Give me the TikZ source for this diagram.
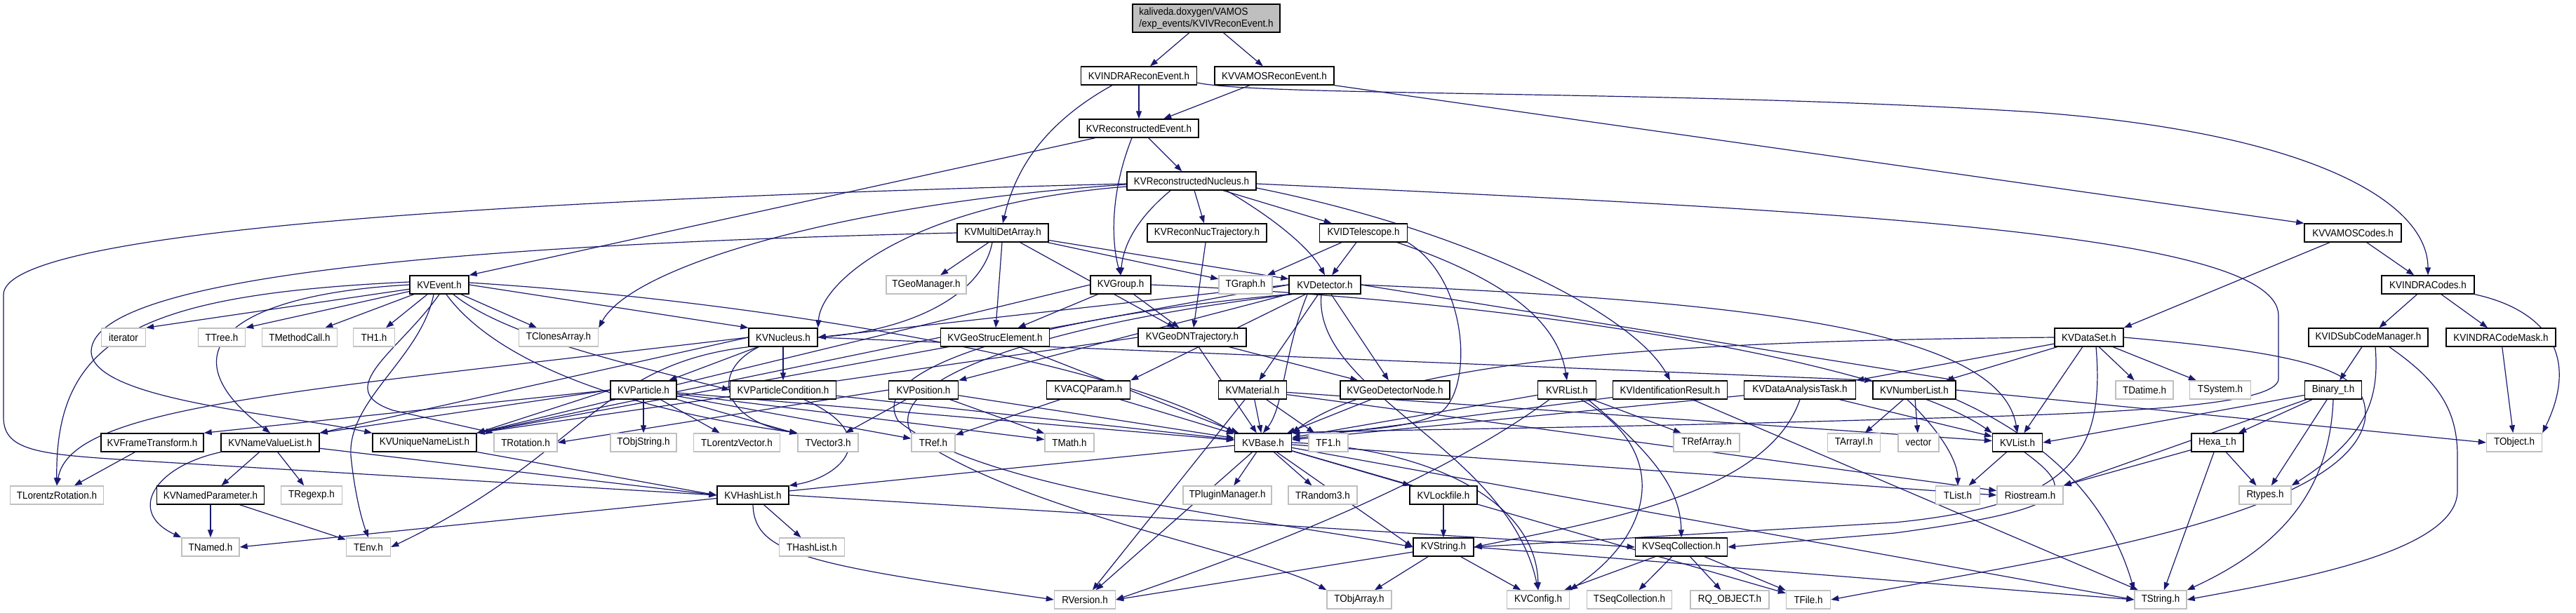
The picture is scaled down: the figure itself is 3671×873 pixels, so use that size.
\documentclass[tikz,border=0pt]{standalone}
\usepackage{fontspec}
\setmainfont{Liberation Sans}[FakeStretch=0.92]
\usetikzlibrary{arrows.meta}
\pgfdeclarelayer{bgfill}
\pgfdeclarelayer{edges}
\pgfsetlayers{bgfill,edges,main}
\definecolor{edgec}{HTML}{191970}
\definecolor{grayb}{HTML}{BFBFBF}
\tikzset{
  kv/.style={draw=black, fill=white, line width=1.4pt, inner sep=0pt, minimum height=26pt, font=\fontsize{14.6}{16.5}\selectfont},
  ext/.style={draw=grayb, fill=white, line width=1.4pt, inner sep=0pt, minimum height=26pt, font=\fontsize{14.6}{16.5}\selectfont},
  edge/.style={draw=edgec, line width=1.2pt, -{Triangle[length=11pt,width=8pt]}}
}
\begin{document}
\begin{tikzpicture}[x=1pt,y=-1pt]
\begin{pgfonlayer}{bgfill}
\fill[white] (0,0) rectangle (3671,873);
\end{pgfonlayer}
\useasboundingbox (0,0) rectangle (3671,873);
% ---------- nodes ----------
\node[kv,fill=grayb,minimum width=210pt,minimum height=40pt,align=left] (top) at (1719,26) {kaliveda.doxygen/VAMOS\\/exp\_events/KVIVReconEvent.h};
\node[kv,minimum width=165pt] (INDRARE) at (1623,108) {KVINDRAReconEvent.h};
\node[kv,minimum width=170pt] (VAMOSRE) at (1816,108) {KVVAMOSReconEvent.h};
\node[kv,minimum width=170pt] (RE) at (1623,183) {KVReconstructedEvent.h};
\node[kv,minimum width=184pt] (RN) at (1698,258) {KVReconstructedNucleus.h};
\node[kv,minimum width=130pt] (MDA) at (1429,332) {KVMultiDetArray.h};
\node[kv,minimum width=170pt] (RNT) at (1720,332) {KVReconNucTrajectory.h};
\node[kv,minimum width=125pt] (IDT) at (1943,332) {KVIDTelescope.h};
\node[kv,minimum width=138pt] (VAMOSC) at (3353,332) {KVVAMOSCodes.h};
\node[kv,minimum width=84pt] (EVT) at (626,406) {KVEvent.h};
\node[ext,minimum width=114pt] (TGeoM) at (1320,406) {TGeoManager.h};
\node[kv,minimum width=86pt] (GRP) at (1597,406) {KVGroup.h};
\node[ext,minimum width=76pt] (TGraph) at (1775,406) {TGraph.h};
\node[kv,minimum width=102pt] (DET) at (1888,406) {KVDetector.h};
\node[kv,minimum width=132pt] (INDRAC) at (3460,406) {KVINDRACodes.h};
\node[ext,minimum width=63pt] (iter) at (176,481) {iterator};
\node[ext,minimum width=67pt] (TTree) at (316,481) {TTree.h};
\node[ext,minimum width=107pt] (TMeth) at (427,481) {TMethodCall.h};
\node[ext,minimum width=59pt] (TH1) at (533,481) {TH1.h};
\node[ext,minimum width=113pt] (TClones) at (796,481) {TClonesArray.h};
\node[kv,minimum width=98pt] (NUC) at (1116,481) {KVNucleus.h};
\node[kv,minimum width=155pt] (GSE) at (1418,481) {KVGeoStrucElement.h};
\node[kv,minimum width=154pt] (GDNT) at (1699,481) {KVGeoDNTrajectory.h};
\node[kv,minimum width=98pt] (DS) at (2977,481) {KVDataSet.h};
\node[kv,minimum width=170pt] (IDSCM) at (3375,481) {KVIDSubCodeManager.h};
\node[kv,minimum width=156pt] (ICM) at (3564,481) {KVINDRACodeMask.h};
\node[kv,minimum width=94pt] (PART) at (917,556) {KVParticle.h};
\node[kv,minimum width=151pt] (PCOND) at (1116,556) {KVParticleCondition.h};
\node[kv,minimum width=99pt] (POS) at (1316,556) {KVPosition.h};
\node[kv,minimum width=119pt] (ACQ) at (1551,556) {KVACQParam.h};
\node[kv,minimum width=97pt] (MAT) at (1785,556) {KVMaterial.h};
\node[kv,minimum width=156pt] (GDN) at (1988,556) {KVGeoDetectorNode.h};
\node[kv,minimum width=83pt] (RLIST) at (2233,556) {KVRList.h};
\node[kv,minimum width=163pt] (IDRES) at (2380,556) {KVIdentificationResult.h};
\node[kv,minimum width=159pt] (DAT) at (2565,556) {KVDataAnalysisTask.h};
\node[kv,minimum width=118pt] (NUML) at (2728,556) {KVNumberList.h};
\node[ext,minimum width=82pt] (TDatime) at (3056,556) {TDatime.h};
\node[ext,minimum width=87pt] (TSystem) at (3164,556) {TSystem.h};
\node[kv,minimum width=81pt] (BIN) at (3325,556) {Binary\_t.h};
\node[kv,minimum width=146pt] (FT) at (217,631) {KVFrameTransform.h};
\node[kv,minimum width=140pt] (NVL) at (385,631) {KVNameValueList.h};
\node[kv,minimum width=148pt] (UNL) at (605,631) {KVUniqueNameList.h};
\node[ext,minimum width=90pt] (TRot) at (749,631) {TRotation.h};
\node[ext,minimum width=94pt] (TObjStr) at (917,631) {TObjString.h};
\node[ext,minimum width=123pt] (TLV) at (1050,631) {TLorentzVector.h};
\node[ext,minimum width=86pt] (TV3) at (1180,631) {TVector3.h};
\node[ext,minimum width=62pt] (TRef) at (1330,631) {TRef.h};
\node[ext,minimum width=70pt] (TMath) at (1524,631) {TMath.h};
\node[kv,minimum width=81pt] (BASE) at (1800,631) {KVBase.h};
\node[ext,minimum width=56pt] (TF1) at (1893,631) {TF1.h};
\node[ext,minimum width=94pt] (TRefArr) at (2432,631) {TRefArray.h};
\node[ext,minimum width=75pt] (TArrayI) at (2642,631) {TArrayI.h};
\node[ext,minimum width=58pt] (vec) at (2734,631) {vector};
\node[kv,minimum width=71pt] (LIST) at (2875,631) {KVList.h};
\node[kv,minimum width=74pt] (HEXA) at (3160,631) {Hexa\_t.h};
\node[ext,minimum width=79pt] (TObject) at (3583,631) {TObject.h};
\node[ext,minimum width=133pt] (TLR) at (81,706) {TLorentzRotation.h};
\node[kv,minimum width=153pt] (NPAR) at (300,706) {KVNamedParameter.h};
\node[ext,minimum width=87pt] (TRegexp) at (444,706) {TRegexp.h};
\node[kv,minimum width=102pt] (HL) at (1073,706) {KVHashList.h};
\node[ext,minimum width=126pt] (TPlug) at (1749,706) {TPluginManager.h};
\node[ext,minimum width=98pt] (TRand) at (1885,706) {TRandom3.h};
\node[kv,minimum width=96pt] (LOCK) at (2057,706) {KVLockfile.h};
\node[ext,minimum width=63pt] (TList) at (2790,706) {TList.h};
\node[ext,minimum width=94pt] (Rio) at (2893,706) {Riostream.h};
\node[ext,minimum width=74pt] (Rtypes) at (3228,706) {Rtypes.h};
\node[ext,minimum width=82pt] (TNamed) at (300,780) {TNamed.h};
\node[ext,minimum width=63pt] (TEnv) at (525,780) {TEnv.h};
\node[ext,minimum width=93pt] (THL) at (1157,780) {THashList.h};
\node[kv,minimum width=86pt] (STR) at (2057,780) {KVString.h};
\node[kv,minimum width=131pt] (SEQ) at (2396,780) {KVSeqCollection.h};
\node[ext,minimum width=87pt] (RVer) at (1546,855) {RVersion.h};
\node[ext,minimum width=92pt] (TObjArr) at (1937,855) {TObjArray.h};
\node[ext,minimum width=89pt] (CONF) at (2192,855) {KVConfig.h};
\node[ext,minimum width=121pt] (TSeqC) at (2322,855) {TSeqCollection.h};
\node[ext,minimum width=112pt] (RQ) at (2465,855) {RQ\_OBJECT.h};
\node[ext,minimum width=63pt] (TFile) at (2577,855) {TFile.h};
\node[ext,minimum width=74pt] (TString) at (3079,855) {TString.h};
% ---------- edges ----------
\begin{pgfonlayer}{edges}
\draw[edge] (top) -- (INDRARE);
\draw[edge] (top) -- (VAMOSRE);
\draw[edge] (INDRARE) -- (RE);
\draw[edge] (INDRARE.south west) ++(45,0) .. controls (1480,180) and (1445,250) .. (MDA.north);
\draw[edge] (INDRARE.east) ++(0,10) .. controls (1800,138) and (2400,128) .. (2900,160) .. controls (3300,190) and (3460,290) .. (INDRAC.north);
\draw[edge] (VAMOSRE) -- (RE);
\draw[edge] (VAMOSRE.south east) -- (VAMOSC.north west);
\draw[edge] (RE) -- (EVT.north east);
\draw[edge] (RE.south) ++(-10,0) .. controls (1580,280) and (1585,350) .. (GRP.north);
\draw[edge] (RE) -- (RN);
\draw[edge] (RN.west) ++(0,8) .. controls (1300,290) and (1170,400) .. (NUC.north east);
\draw[edge] (RN.west) ++(0,5) .. controls (1200,290) and (900,380) .. (TClones.north east);
\draw[edge] (RN) -- (RNT);
\draw[edge] (RN) -- (IDT);
\draw[edge] (RN.south) ++(50,0) .. controls (1830,320) and (1870,360) .. (DET.north);
\draw[edge] (RN.south) ++(-30,0) .. controls (1610,320) and (1600,360) .. (GRP.north);
\draw[edge] (RN.east) ++(0,10) .. controls (2100,330) and (2330,450) .. (IDRES.north);
\draw[edge] (RN.west) ++(0,4) .. controls (700,285) and (5,330) .. (5,420) -- (5,595) .. controls (5,645) and (60,648) .. (200,657) -- (HL.west);
\draw[edge] (RN.east) ++(0,4) .. controls (2600,300) and (3247,330) .. (3247,450) -- (3247,540) .. controls (3247,580) and (3000,590) .. (2721,597) .. controls (2300,610) and (2000,612) .. (BASE.north east);
\draw[edge] (MDA) -- (TGeoM);
\draw[edge] (MDA.south) ++(-15,0) .. controls (1400,420) and (1300,470) .. (NUC.east);
\draw[edge] (MDA) -- (GSE);
\draw[edge] (MDA) -- (GDNT);
\draw[edge] (MDA) -- (TGraph);
\draw[edge] (MDA) -- (DET);
\draw[edge] (MDA.west) .. controls (600,350) and (135,400) .. (130,500) .. controls (128,570) and (400,590) .. (UNL.north west);
\draw[edge] (RNT) -- (GDNT);
\draw[edge] (IDT) -- (TGraph);
\draw[edge] (IDT) -- (DET);
\draw[edge] (IDT.south east) ++(-15,0) .. controls (2150,400) and (2220,460) .. (RLIST.north);
\draw[edge] (IDT.south east) .. controls (2095,400) and (2100,560) .. (2050,590) .. controls (2000,615) and (1900,615) .. (BASE.north east);
\draw[edge] (VAMOSC) -- (INDRAC);
\draw[edge] (VAMOSC) -- (DS.north east);
\draw[edge] (INDRAC) -- (IDSCM);
\draw[edge] (INDRAC) -- (ICM);
\draw[edge] (INDRAC.south east) .. controls (3620,440) and (3680,500) .. (TObject.north east);
\draw[edge] (EVT) -- (iter.north east);
\draw[edge] (EVT) -- (TTree.north east);
\draw[edge] (EVT) -- (TMeth);
\draw[edge] (EVT) -- (TH1);
\draw[edge] (EVT) -- (TClones);
\draw[edge] (EVT.east) -- (NUC.north west);
\draw[edge] (EVT.south) ++(20,0) .. controls (720,480) and (900,520) .. (PCOND.west);
\draw[edge] (EVT.west) .. controls (330,420) and (230,500) .. (NVL.north);
\draw[edge] (EVT.south) .. controls (570,500) and (470,555) .. (560,585) -- (TRot.north west);
\draw[edge] (EVT.west) ++(0,-4) .. controls (200,420) and (78,480) .. (TLR.north);
\draw[edge] (EVT.south) ++(10,0) .. controls (680,480) and (800,570) .. (TV3.north west);
\draw[edge] (EVT.east) ++(0,-3) .. controls (1100,430) and (1600,520) .. (BASE.north west);
\draw[edge] (EVT.south) ++(-8,0) .. controls (600,510) and (495,570) .. (500,650) .. controls (505,700) and (515,740) .. (TEnv.north);
\draw[edge] (GRP) -- (GSE);
\draw[edge] (GRP) -- (GDNT);
\draw[edge] (GRP.west) -- (UNL.north east);
\draw[edge] (GRP.east) .. controls (2200,430) and (2700,520) .. (LIST.north west);
\draw[edge] (DET) -- (MAT);
\draw[edge] (DET) -- (GDN);
\draw[edge] (DET) -- (ACQ.north east);
\draw[edge] (DET) -- (POS.north east);
\draw[edge] (DET.west) -- (NUC.east);
\draw[edge] (DET.south) ++(-25,0) .. controls (1830,500) and (1830,580) .. (BASE.north);
\draw[edge] (DET.east) .. controls (2500,430) and (2850,470) .. (LIST.north);
\draw[edge] (DET.east) -- (NUML.north east);
\draw[edge] (DET.west) -- (UNL.north east);
\draw[edge] (DET.south) ++(-5,0) .. controls (1870,560) and (2150,640) .. (CONF.north);
\draw[edge] (DET.south west) .. controls (1500,450) and (1230,520) .. (1280,600) .. controls (1400,700) and (1800,740) .. (STR.west);
\draw[edge] (DET.south west) ++(5,0) .. controls (1500,460) and (1250,540) .. (1300,620) .. controls (1450,730) and (1800,790) .. (TObjArr.north west);
\draw[edge] (NUC) -- (PART);
\draw[edge] (NUC) -- (PCOND);
\draw[edge] (NUC.south west) ++(15,0) .. controls (1010,530) and (1030,600) .. (TV3.north west);
\draw[edge] (NUC.west) .. controls (400,560) and (100,580) .. (TLR.north);
\draw[edge] (NUC.west) -- (NVL.north east);
\draw[edge] (NUC.south west) .. controls (850,520) and (830,650) .. (TEnv.east);
\draw[edge] (NUC.east) -- (NUML.north west);
\draw[edge] (GSE) -- (BASE);
\draw[edge] (GSE.west) -- (UNL.north east);
\draw[edge] (GDNT) -- (GDN);
\draw[edge] (GDNT) -- (BASE);
\draw[edge] (GDNT.west) -- (UNL.north east);
\draw[edge] (DS) -- (DAT.north east);
\draw[edge] (DS) -- (NUML);
\draw[edge] (DS) -- (LIST);
\draw[edge] (DS) -- (TDatime);
\draw[edge] (DS) -- (TSystem);
\draw[edge] (DS.east) .. controls (3300,505) and (3380,530) .. (3370,600) .. controls (3340,740) and (2900,800) .. (TFile.east);
\draw[edge] (DS.west) .. controls (2500,485) and (2000,500) .. (BASE.north east);
\draw[edge] (DS.south) ++(10,0) .. controls (3000,650) and (2950,720) .. (2700,745) -- (STR.east);
\draw[edge] (IDSCM) -- (BIN);
\draw[edge] (IDSCM.south) ++(10,0) .. controls (3390,560) and (3380,620) .. (Rtypes.north east);
\draw[edge] (IDSCM.south) ++(30,0) .. controls (3470,540) and (3502,580) .. (3502,650) -- (3502,700) .. controls (3502,790) and (3250,830) .. (TString.east);
\draw[edge] (ICM) -- (TObject);
\draw[edge] (PART.west) -- (FT.north east);
\draw[edge] (PART.west) -- (NVL.north east);
\draw[edge] (PART.west) -- (UNL.north east);
\draw[edge] (PART) -- (TObjStr);
\draw[edge] (PART) -- (TLV);
\draw[edge] (PART) -- (TV3);
\draw[edge] (PART) -- (TRef);
\draw[edge] (PART) -- (TMath);
\draw[edge] (PART) -- (BASE);
\draw[edge] (PCOND.south) ++(30,0) .. controls (1260,620) and (1200,680) .. (HL.north east);
\draw[edge] (PCOND) -- (BASE);
\draw[edge] (POS.west) -- (TRot.east);
\draw[edge] (POS) -- (TV3);
\draw[edge] (POS) -- (TMath);
\draw[edge] (POS) -- (BASE);
\draw[edge] (ACQ) -- (TRef);
\draw[edge] (ACQ) -- (BASE);
\draw[edge] (MAT) -- (BASE);
\draw[edge] (MAT) -- (TF1);
\draw[edge] (MAT) -- (RVer);
\draw[edge] (MAT) -- (LIST);
\draw[edge] (MAT) -- (Rio);
\draw[edge] (GDN) -- (BASE);
\draw[edge] (RLIST) -- (BASE);
\draw[edge] (RLIST) -- (TRefArr);
\draw[edge] (RLIST.south) ++(30,0) .. controls (2360,650) and (2395,700) .. (SEQ.north);
\draw[edge] (RLIST.south) ++(-25,0) .. controls (2030,700) and (1750,800) .. (RVer.east);
\draw[edge] (RLIST.south) ++(20,0) .. controls (2380,640) and (2360,760) .. (CONF.north east);
\draw[edge] (IDRES) -- (BASE);
\draw[edge] (IDRES) -- (TString);
\draw[edge] (DAT) -- (BASE);
\draw[edge] (DAT.south) .. controls (2520,700) and (2300,740) .. (STR.east);
\draw[edge] (DAT) -- (LIST);
\draw[edge] (NUML) -- (TArrayI);
\draw[edge] (NUML) -- (vec);
\draw[edge] (NUML.south) ++(-10,0) .. controls (2770,620) and (2790,660) .. (TList.north);
\draw[edge] (NUML.south east) .. controls (2900,620) and (3000,700) .. (TString.north west);
\draw[edge] (NUML.east) -- (TObject.west);
\draw[edge] (BIN) -- (HEXA);
\draw[edge] (BIN) -- (Rtypes);
\draw[edge] (BIN.south) .. controls (3320,700) and (3250,780) .. (TString.north east);
\draw[edge] (BIN) -- (Rio.north east);
\draw[edge] (BIN) -- (LIST.east);
\draw[edge] (HEXA) -- (Rio.north east);
\draw[edge] (HEXA) -- (Rtypes);
\draw[edge] (HEXA) -- (TString);
\draw[edge] (FT) -- (TLR);
\draw[edge] (NVL) -- (HL.west);
\draw[edge] (NVL) -- (NPAR);
\draw[edge] (NVL) -- (TRegexp);
\draw[edge] (NVL.south west) .. controls (220,665) and (180,730) .. (TNamed.north west);
\draw[edge] (UNL) -- (HL.west);
\draw[edge] (BASE) -- (TPlug);
\draw[edge] (BASE) -- (TRand);
\draw[edge] (BASE) -- (LOCK);
\draw[edge] (BASE) -- (STR.west);
\draw[edge] (BASE.east) .. controls (2050,640) and (2190,720) .. (CONF.north);
\draw[edge] (BASE) -- (RVer);
\draw[edge] (BASE) -- (TNamed.east);
\draw[edge] (BASE) -- (TString.west);
\draw[edge] (BASE) -- (TFile);
\draw[edge] (BASE) -- (Rio.west);
\draw[edge] (LIST) -- (TList);
\draw[edge] (LIST.south) ++(10,0) .. controls (2960,700) and (2960,725) .. (2700,760) -- (SEQ.east);
\draw[edge] (NPAR) -- (TNamed);
\draw[edge] (NPAR) -- (TEnv);
\draw[edge] (HL) -- (THL);
\draw[edge] (HL.south) .. controls (1075,790) and (1150,805) .. (RVer.west);
\draw[edge] (HL.east) -- (SEQ.west);
\draw[edge] (LOCK) -- (STR);
\draw[edge] (STR) -- (TObjArr);
\draw[edge] (STR) -- (CONF);
\draw[edge] (STR.east) -- (TString.west);
\draw[edge] (STR) -- (RVer.east);
\draw[edge] (SEQ) -- (CONF);
\draw[edge] (SEQ) -- (TSeqC);
\draw[edge] (SEQ) -- (RQ);
\draw[edge] (SEQ) -- (TFile);
\end{pgfonlayer}
\end{tikzpicture}
\end{document}
